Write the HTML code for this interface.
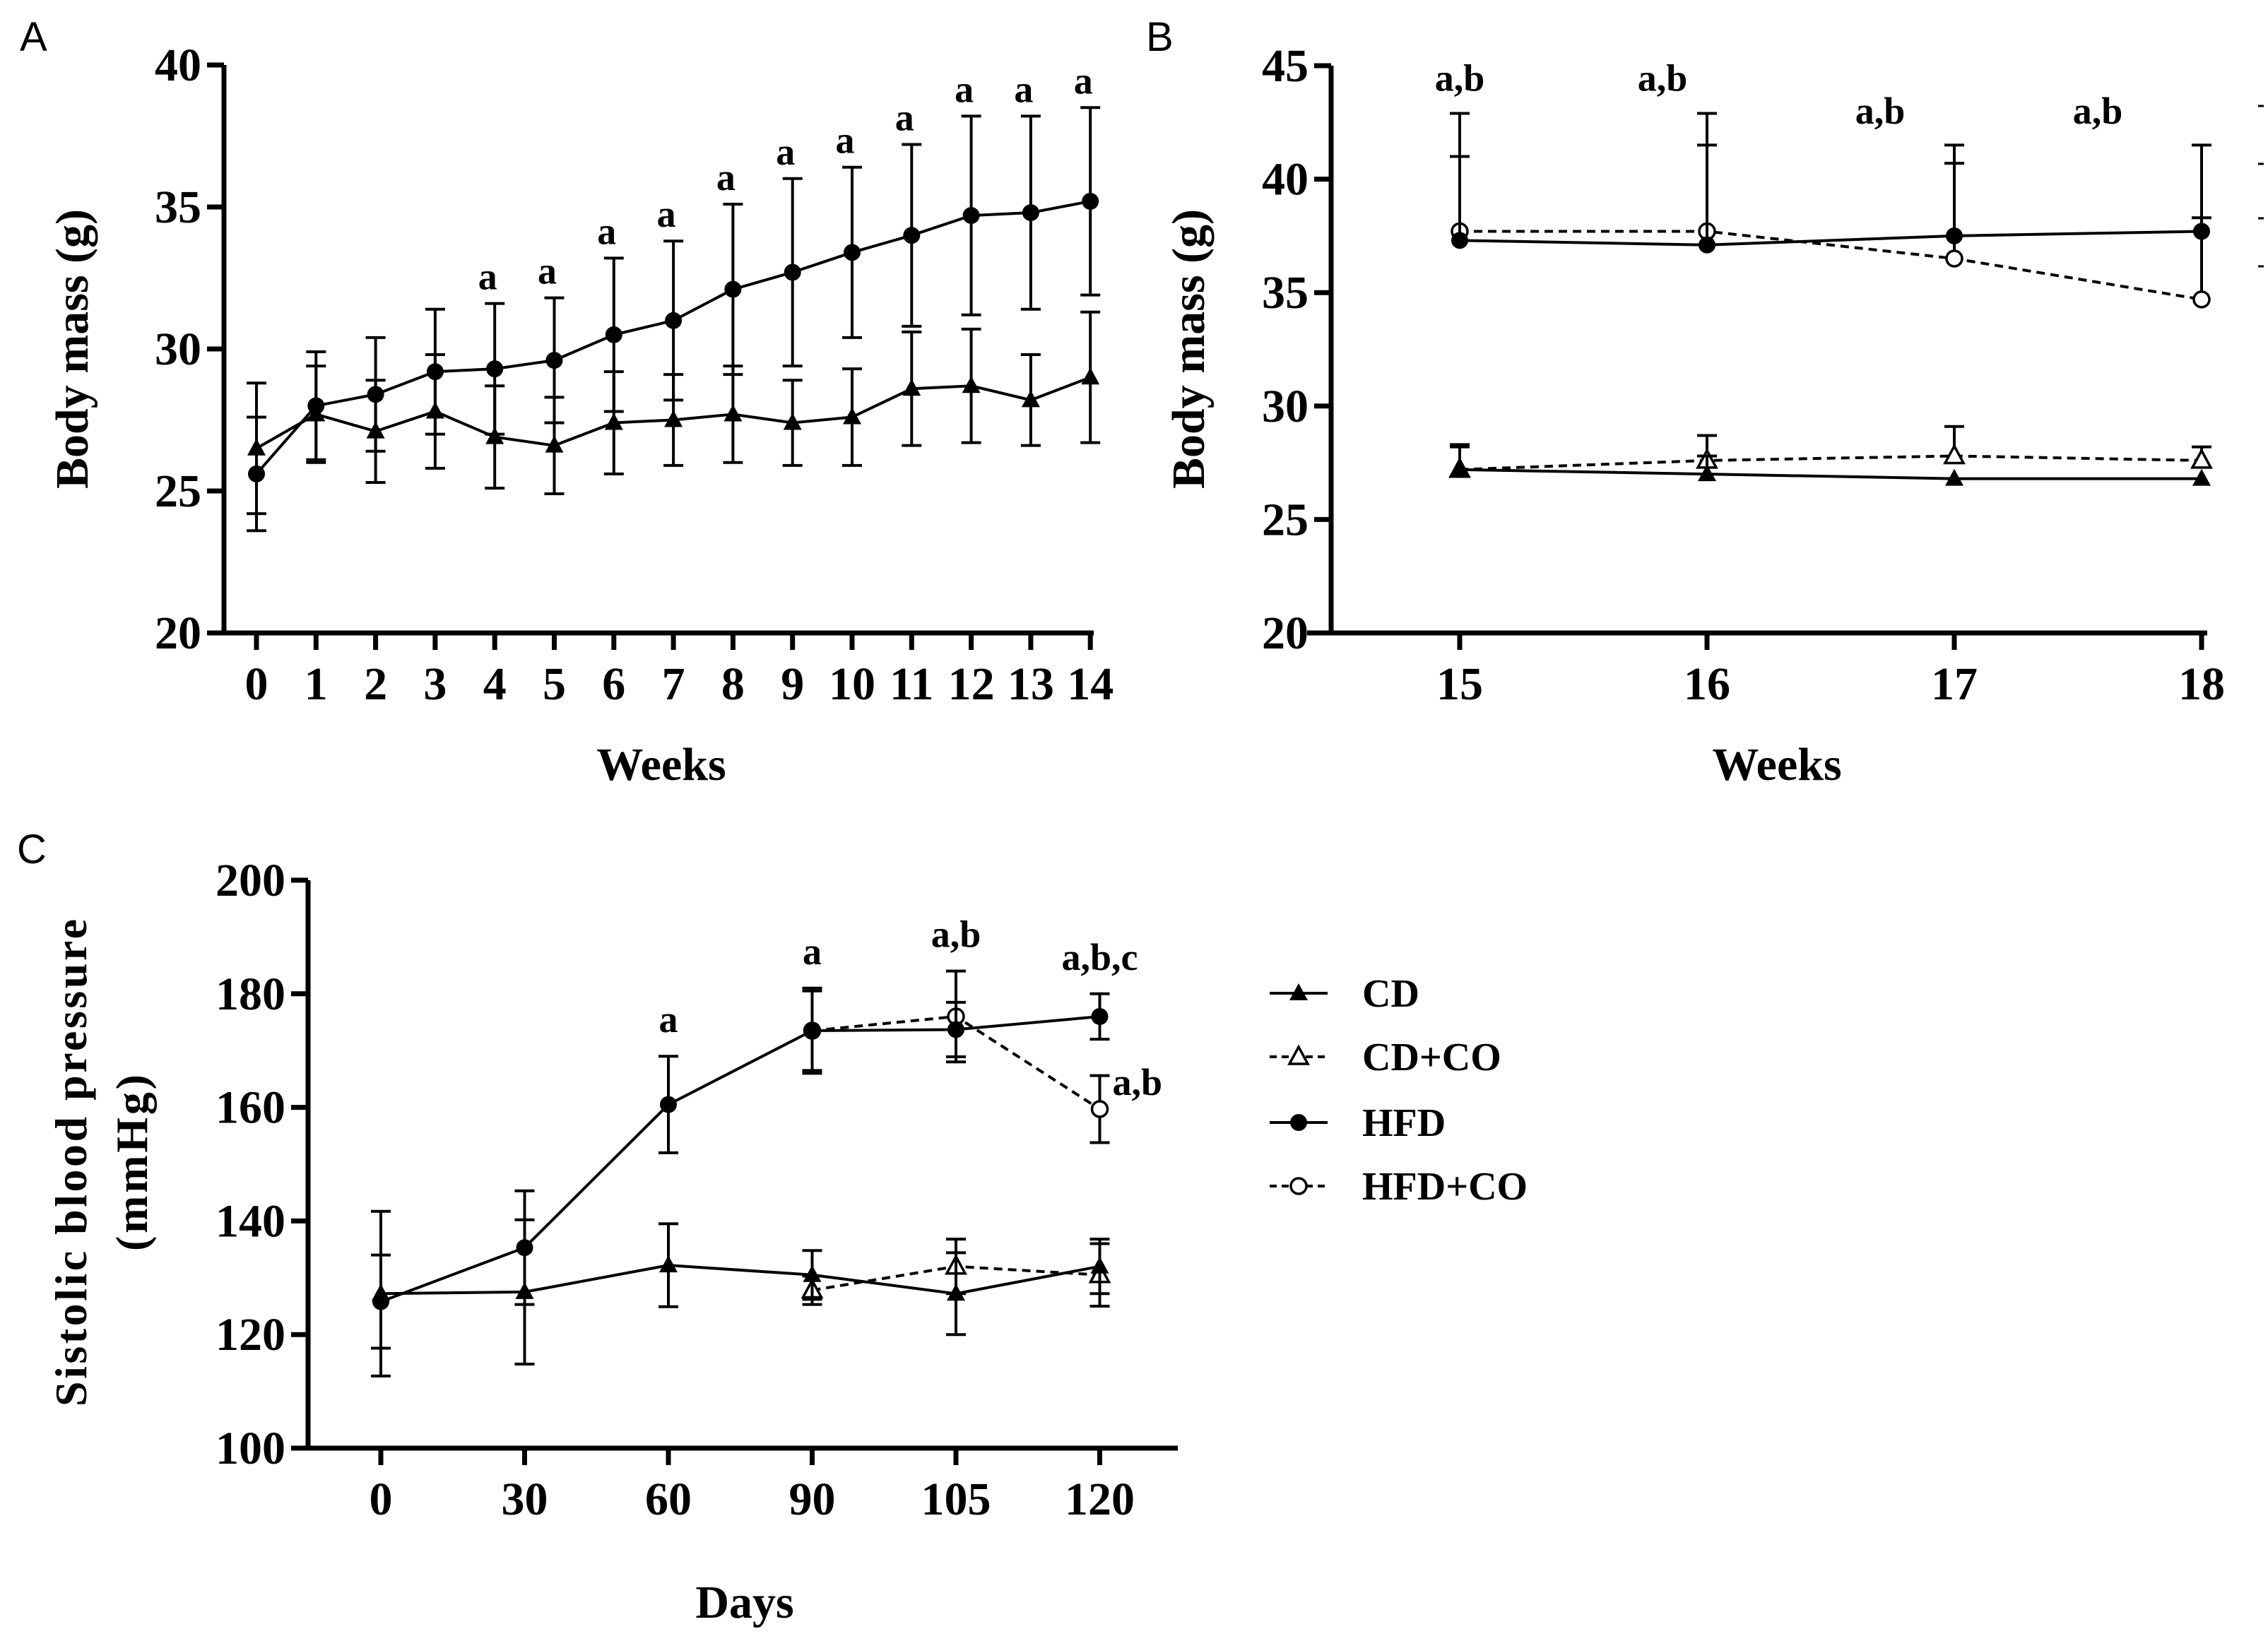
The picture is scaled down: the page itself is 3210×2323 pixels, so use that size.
<!DOCTYPE html>
<html><head><meta charset="utf-8"><style>
html,body{margin:0;padding:0;background:#fff;}
svg{display:block;}
text{font-family:"Liberation Serif",serif;font-weight:bold;fill:#000;}
.pl{font-family:"Liberation Sans",sans-serif;font-weight:normal;}
</style></head><body>
<svg id="fig" width="3210" height="2323" viewBox="0 0 3210 2323" xmlns="http://www.w3.org/2000/svg">
<text class="pl" x="28" y="72" font-size="58">A</text>
<text class="pl" x="1622" y="72" font-size="58">B</text>
<text class="pl" x="24" y="1222" font-size="58">C</text>
</svg>
<script>
// ---------- Panel A data ----------
const weeksA = [0,1,2,3,4,5,6,7,8,9,10,11,12,13,14];
const hfdA = [25.6,28.0,28.4,29.2,29.3,29.6,30.5,31.0,32.1,32.7,33.4,34.0,34.7,34.8,35.2];
const hfdSdA = [2.0,1.9,2.0,2.2,2.3,2.2,2.7,2.8,3.0,3.3,3.0,3.2,3.5,3.4,3.3];
const cdA = [26.5,27.7,27.1,27.8,26.9,26.6,27.4,27.5,27.7,27.4,27.6,28.6,28.7,28.2,29.0];
const cdSdA = [2.3,1.7,1.8,2.0,1.8,1.7,1.8,1.6,1.7,1.5,1.7,2.0,2.0,1.6,2.3];
const annotA = ["","","","","a","a","a","a","a","a","a","a","a","a","a"];
const yTicksA = [20,25,30,35,40];
// ---------- Panel B data ----------
const weeksB = [15,16,17,18];
const hfdB = [37.3,37.1,37.5,37.7];
const hfdSdB = [5.6,5.8,4.0,3.8];
const hfdcoB = [37.7,37.7,36.5,34.7];
const hfdcoSdB = [3.3,3.8,4.2,3.6];
const cdB = [27.2,27.0,26.8,26.8];
const cdSdB = [1.0,0.8,0,0];
const cdcoB = [27.2,27.6,27.8,27.6];
const cdcoSdB = [1.1,1.1,1.3,0.6];
const annotBx = [15,15.82,16.7,17.58];
const annotBy = [44.45,44.45,43.0,43.0];
const annotBText = ["a,b","a,b","a,b","a,b"];
const yTicksB = [20,25,30,35,40,45];
// ---------- Panel C data ----------
const daysC = ["0","30","60","90","105","120"];
const hfdC = [125.8,135.3,160.5,173.5,173.7,176.0];
const hfdSdC = [8.2,10.0,8.5,7.5,4.8,4.0];
const cdC = [127.2,127.5,132.2,130.5,127.2,132.0];
const cdSdC = [14.5,12.7,7.3,4.3,7.2,4.8];
const hfdcoC = [null,null,null,173.5,176.0,159.7];
const hfdcoSdC = [0,0,0,7.0,8.0,5.9];
const cdcoC = [null,null,null,127.8,132.0,130.5];
const cdcoSdC = [0,0,0,2.5,4.8,5.5];
const annotC = ["","","a","a","a,b","a,b,c"];
const yTicksC = [100,120,140,160,180,200];

const NS="http://www.w3.org/2000/svg";
const svg=document.getElementById('fig');
function mk(tag,attrs,parent){const e=document.createElementNS(NS,tag);for(const k in attrs)e.setAttribute(k,attrs[k]);(parent||svg).appendChild(e);return e;}
function txt(x,y,s,size,anchor,parent){const t=mk('text',{x:x,y:y,'font-size':size,'text-anchor':anchor||'middle'},parent);t.textContent=s;return t;}

function axes(g,x0,x1,yTop,yBot,ys,yTickVals,xPos,xLabels,xStart,xEnd){
  const ax=mk('path',{d:`M${x0} ${yTop}V${yBot}M${xStart} ${yBot}H${xEnd}`,stroke:'#000','stroke-width':7,fill:'none'},g);
  
  
  yTickVals.forEach(v=>{
    const y=ys(v);
    const t=mk('line',{x1:x0-24,x2:x0,y1:y,y2:y,stroke:'#000','stroke-width':7},g);
    
    
    const l=txt(x0-32,y+22,String(v),66,'end',g);
    
    
  });
  xPos.forEach((x,i)=>{
    const t=mk('line',{x1:x,x2:x,y1:yBot,y2:yBot+24,stroke:'#000','stroke-width':7},g);
    
    
    const l=txt(x,yBot+94,xLabels[i],66,'middle',g);
    
    
  });
}
function series(g,xs,vals,sds,ys,marker,dashed,name,onlyUp){
  const pts=[];
  vals.forEach((v,i)=>{if(v!==null)pts.push([xs[i],ys(v),sds[i],v]);});
  pts.forEach(p=>{
    if(p[2]>0){
      const yt=ys(p[3]+p[2]), yb=onlyUp?p[1]:ys(p[3]-p[2]);
      const e=mk('path',{d:`M${p[0]} ${yt}V${yb}M${p[0]-14} ${yt}H${p[0]+14}`+(onlyUp?'':`M${p[0]-14} ${yb}H${p[0]+14}`),stroke:'#000','stroke-width':4,fill:'none'},g);
      
      
    }
  });
  const ln=mk('polyline',{points:pts.map(p=>p[0]+','+p[1]).join(' '),stroke:'#000','stroke-width':4,fill:'none','stroke-dasharray':dashed?'12 8':'none'},g);
  
  
  pts.forEach(p=>{drawMarker(g,p[0],p[1],marker,name);});
}
function drawMarker(g,x,y,marker,name){
  let m;
  if(marker==='dot') m=mk('circle',{cx:x,cy:y,r:12,fill:'#000'},g);
  else if(marker==='ring') m=mk('circle',{cx:x,cy:y,r:11,fill:'#fff',stroke:'#000','stroke-width':3.5},g);
  else if(marker==='tri') m=mk('path',{d:`M${x} ${y-14}L${x+13} ${y+10}L${x-13} ${y+10}Z`,fill:'#000'},g);
  else m=mk('path',{d:`M${x} ${y-14}L${x+13} ${y+10}L${x-13} ${y+10}Z`,fill:'#fff',stroke:'#000','stroke-width':3.5},g);
  
  
}

// ---------- Panel A ----------
const gA=mk('g',{});


const yA=v=>896-(v-20)*(896-92)/20;
const xA=w=>363+w*84.3;
axes(gA,317,0,92,896,yA,yTicksA,weeksA.map(xA),weeksA.map(String),293,1548);
series(gA,weeksA.map(xA),cdA,cdSdA,yA,'tri',false,'cd-a',false);
series(gA,weeksA.map(xA),hfdA,hfdSdA,yA,'dot',false,'hfd-a',false);
annotA.forEach((s,i)=>{if(!s)return;const t=txt(xA(weeksA[i])-10,yA(hfdA[i]+hfdSdA[i])-20,s,54,'middle',gA);
  
  });
let t=txt(936,1104,'Weeks',66,'middle',gA);


t=mk('text',{x:0,y:0,'font-size':66,'text-anchor':'middle',transform:'translate(124,494) rotate(-90)'},gA);t.textContent='Body mass (g)';



// ---------- Panel B ----------
const gB=mk('g',{});


const yB=v=>896-(v-20)*(896-93)/25;
const xB=w=>2066+(w-15)*(3116-2066)/3;
axes(gB,1884,0,93,896,yB,yTicksB,weeksB.map(xB),weeksB.map(String),1850,3124);
series(gB,weeksB.map(xB),cdcoB,cdcoSdB,yB,'otri',true,'cd-co-b',true);
series(gB,weeksB.map(xB),cdB,cdSdB,yB,'tri',false,'cd-b',true);
series(gB,weeksB.map(xB),hfdcoB,hfdcoSdB,yB,'ring',true,'hfd-co-b',true);
series(gB,weeksB.map(xB),hfdB,hfdSdB,yB,'dot',false,'hfd-b',true);
annotBx.forEach((w,i)=>{const t=txt(xB(w),yB(annotBy[i])+18,annotBText[i],54,'middle',gB);
  
  });
t=txt(2515,1104,'Weeks',66,'middle',gB);


t=mk('text',{x:0,y:0,'font-size':66,'text-anchor':'middle',transform:'translate(1704,494) rotate(-90)'},gB);t.textContent='Body mass (g)';


[150,232,309,377].forEach(y=>{const d=mk('line',{x1:3196,x2:3204,y1:y,y2:y,stroke:'#000','stroke-width':3},gB);
  
  });

// ---------- Panel C ----------
const gC=mk('g',{});


const yC=v=>2050-(v-100)*(2050-1246)/100;
const xC=i=>539+i*203.5;
const idxC=daysC.map((d,i)=>xC(i));
axes(gC,436,0,1246,2050,yC,yTicksC,idxC,daysC,414,1667);
series(gC,idxC,cdcoC,cdcoSdC,yC,'otri',true,'cd-co-c',false);
series(gC,idxC,cdC,cdSdC,yC,'tri',false,'cd-c',false);
series(gC,idxC,hfdcoC,hfdcoSdC,yC,'ring',true,'hfd-co-c',false);
series(gC,idxC,hfdC,hfdSdC,yC,'dot',false,'hfd-c',false);
annotC.forEach((s,i)=>{if(!s)return;const top=Math.max(hfdC[i]+hfdSdC[i],hfdcoC[i]!==null?hfdcoC[i]+hfdcoSdC[i]:0);
  const t=txt(idxC[i],yC(top)-34,s,54,'middle',gC);
  
  });
t=txt(idxC[5]+18,yC(hfdcoC[5])-20,'a,b',54,'start',gC);


t=txt(1054,2290,'Days',66,'middle',gC);


t=mk('text',{x:0,y:0,'font-size':64,'text-anchor':'middle',textLength:690,lengthAdjust:'spacing',transform:'translate(122,1646) rotate(-90)'},gC);t.textContent='Sistolic blood pressure';


t=mk('text',{x:0,y:0,'font-size':64,'text-anchor':'middle',textLength:250,lengthAdjust:'spacing',transform:'translate(208,1646) rotate(-90)'},gC);t.textContent='(mmHg)';



// ---------- Legend ----------
const legNames=['CD','CD+CO','HFD','HFD+CO'];
const legMarkers=['tri','otri','dot','ring'];
const legDash=[false,true,false,true];
const legY=[1406,1496,1589,1679];
const gL=mk('g',{});


legNames.forEach((n,i)=>{
  const y=legY[i];
  const l=mk('line',{x1:1797,x2:1879,y1:y,y2:y,stroke:'#000','stroke-width':4,'stroke-dasharray':legDash[i]?'10 7':'none'},gL);
  
  
  drawMarker(gL,1838,y,legMarkers[i],'legend');
  const t=txt(1928,y+19,n,56,'start',gL);
  
  
});
</script>
</body></html>
